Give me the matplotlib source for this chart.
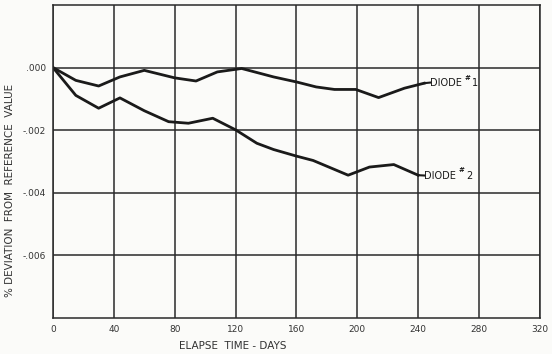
import matplotlib.pyplot as plt

# Données
days_1 = [0, 15, 30, 44, 60, 80, 94, 108, 124, 145, 160, 173, 185, 199, 214, 231, 244]
dev_1 = [0, -0.00041, -0.00059, -0.00030, -0.00009, -0.00033, -0.00043, -0.00014,
         -0.00003, -0.00030, -0.00046, -0.00062, -0.00070, -0.00070, -0.00096,
         -0.00066, -0.00050]

days_2 = [0, 15, 30, 44, 60, 76, 89, 105, 120, 134, 145, 160, 171, 194, 208, 224, 240]
dev_2 = [0, -0.00089, -0.00130, -0.00097, -0.00138, -0.00173, -0.00178, -0.00162,
         -0.00199, -0.00242, -0.00262, -0.00283, -0.00297, -0.00344, -0.00318,
         -0.00310, -0.00344]

x_ticks = [0, 40, 80, 120, 160, 200, 240, 280, 320]
y_ticks = [0, -0.002, -0.004, -0.006]
y_labels = [".000", "-.002", "-.004", "-.006"]

ink = "#1a1a1a"
paper = "#fbfbf9"

fig = plt.figure(figsize=(5.52, 3.54), dpi=100, facecolor=paper)
ax = fig.add_axes([0.096, 0.102, 0.882, 0.884], facecolor=paper)

ax.plot(days_1, dev_1, color=ink, lw=2.0, solid_joinstyle="round")
ax.plot(days_2, dev_2, color=ink, lw=2.0, solid_joinstyle="round")

ax.set_xlim(0, 320)
ax.set_ylim(-0.008, 0.002)
ax.set_xticks(x_ticks)
ax.set_xticklabels([str(t) for t in x_ticks], fontsize=6.5, color="#333333")
ax.set_yticks(y_ticks)
ax.set_yticklabels(y_labels, fontsize=6.5, color="#333333")
ax.tick_params(length=0, pad=5)
ax.grid(True, color="#2a2a2a", lw=1.1)
for s in ax.spines.values():
    s.set_color("#2a2a2a")
    s.set_linewidth(1.1)

# Étiquettes des courbes
ax.plot([244, 248], [-0.00050, -0.00048], color=ink, lw=1.5)
ax.text(248, -0.00048, "DIODE", fontsize=7, color=ink, va="center", ha="left")
ax.text(270.5, -0.00032, "#", fontsize=5, color=ink, va="center", ha="left",
        fontweight="bold")
ax.text(275.5, -0.00048, "1", fontsize=7, color=ink, va="center", ha="left")
ax.plot([240, 244], [-0.00344, -0.00345], color=ink, lw=1.5)
ax.text(244, -0.00345, "DIODE", fontsize=7, color=ink, va="center", ha="left")
ax.text(266.5, -0.00329, "#", fontsize=5, color=ink, va="center", ha="left",
        fontweight="bold")
ax.text(271.5, -0.00345, "2", fontsize=7, color=ink, va="center", ha="left")

fig.text(233 / 552, 1 - 346 / 354, "ELAPSE  TIME - DAYS", fontsize=7.5, color="#333333",
         ha="center", va="center")
fig.text(10 / 552, 1 - 190 / 354, "% DEVIATION  FROM  REFERENCE  VALUE", fontsize=7.5,
         color="#333333", rotation=90, ha="center", va="center")

fig.savefig("out.png", dpi=100, facecolor=paper)
